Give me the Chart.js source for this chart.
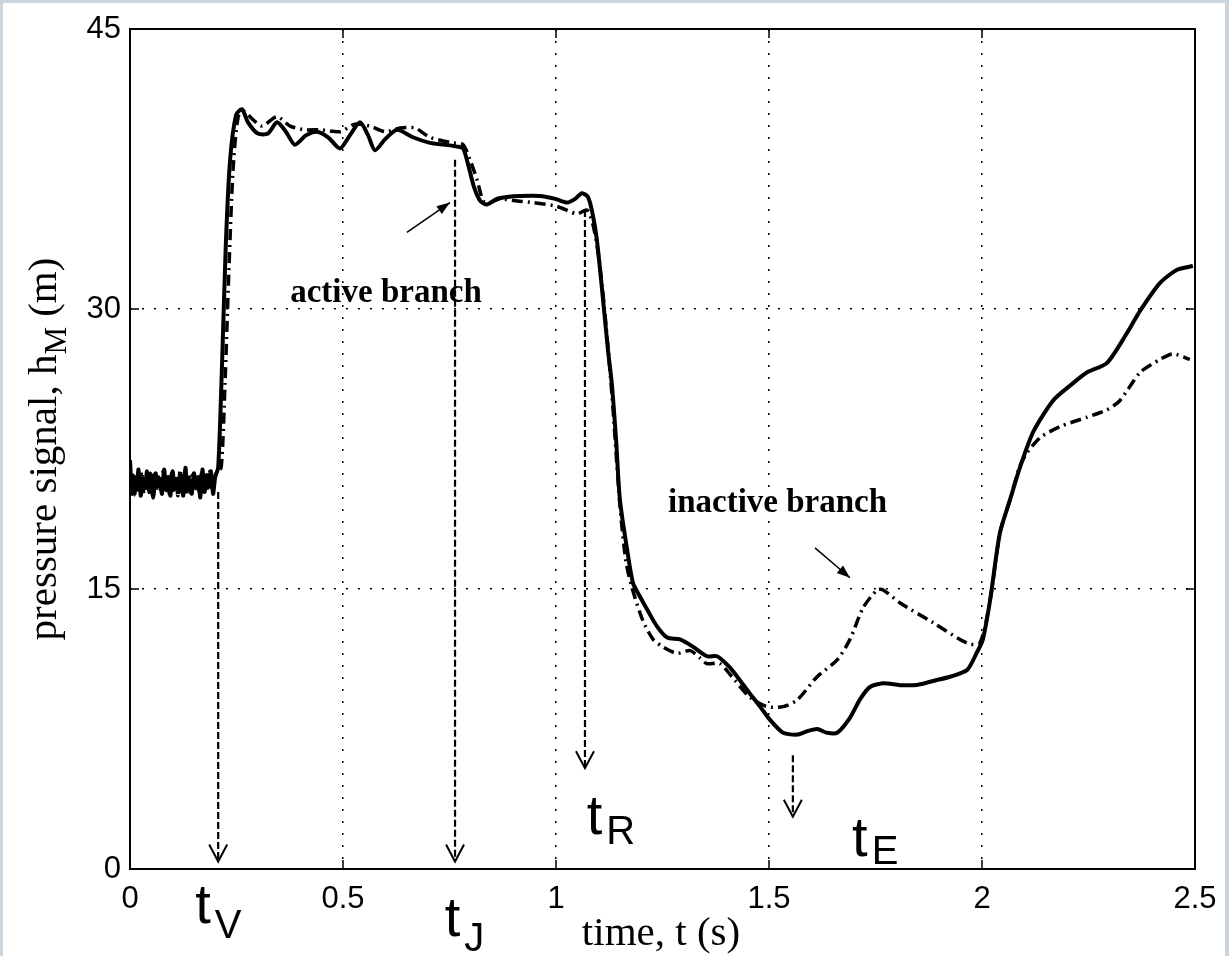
<!DOCTYPE html>
<html>
<head>
<meta charset="utf-8">
<script src="https://cdn.jsdelivr.net/npm/chart.js@4/dist/chart.umd.min.js"></script>
<style>
  html, body { margin: 0; padding: 0; background: #cbd5dd; }
  #wrap { width: 1229px; height: 956px; }
</style>
</head>
<body>
<div id="wrap"><canvas id="pressureChart" width="1229" height="956"></canvas></div>
<script>
// tick values
const xTicks = [0, 0.5, 1, 1.5, 2, 2.5];
const yTicks = [0, 15, 30, 45];

// solid line (active branch)
const solidT = [0,0.005,0.01,0.015,0.02,0.025,0.03,0.035,0.04,0.045,0.05,0.055,0.06,0.065,0.07,0.075,0.08,0.085,0.09,0.095,
  0.1,0.105,0.11,0.115,0.12,0.125,0.13,0.135,0.14,0.145,0.15,0.155,0.16,0.165,0.17,0.175,0.18,0.185,0.19,0.195,0.2,
  0.207,0.216,0.225,0.235,0.249,0.263,0.277,0.300,0.324,0.345,0.366,0.387,0.413,0.439,0.465,0.493,0.516,0.540,0.559,0.575,
  0.599,0.627,0.664,0.704,0.739,0.768,0.782,0.793,0.808,0.822,0.838,0.861,0.885,0.915,0.962,0.998,1.026,1.045,1.061,1.075,
  1.085,1.096,1.110,1.122,1.131,1.141,1.150,1.167,1.181,1.197,1.214,1.237,1.261,1.291,1.322,1.354,1.378,1.408,1.432,1.455,
  1.479,1.502,1.533,1.566,1.592,1.613,1.636,1.660,1.690,1.714,1.737,1.768,1.808,1.847,1.890,1.925,1.965,1.988,2.002,2.019,
  2.042,2.066,2.089,2.120,2.167,2.207,2.246,2.293,2.340,2.371,2.418,2.458,2.495];
const solidH = [21.9,20.1,21.0,20.3,21.4,20.0,20.9,20.4,21.3,20.2,21.1,19.9,21.2,20.5,20.8,20.1,21.4,20.3,21.0,20.0,
  21.3,20.4,20.9,20.2,21.1,20.0,21.5,20.3,20.8,20.1,21.2,20.4,21.0,19.9,21.4,20.2,21.1,20.5,21.3,20.1,21.0,
  21.5,27.0,33.5,38.0,40.4,40.7,40.0,39.4,39.4,40.0,39.5,38.8,39.3,39.5,39.2,38.6,39.3,40.0,39.3,38.5,
  39.1,39.6,39.2,38.9,38.8,38.7,38.6,37.8,36.5,35.8,35.6,35.9,36.0,36.05,36.05,35.9,35.7,35.9,36.2,36.0,
  35.2,33.7,30.6,27.8,26.0,23.0,19.8,17.1,15.3,14.6,13.9,13.0,12.4,12.3,11.9,11.4,11.4,10.8,10.1,9.4,
  8.7,8.0,7.3,7.2,7.4,7.5,7.3,7.3,8.1,9.1,9.75,9.95,9.85,9.86,10.1,10.3,10.66,11.6,12.3,14.4,
  18.0,19.8,21.5,23.4,25.1,25.9,26.6,27.1,28.7,29.9,31.4,32.1,32.3];

// dash-dot line (inactive branch)
const inactiveT = [0.0025,0.0075,0.0125,0.0175,0.0225,0.0275,0.0325,0.0375,0.0425,0.0475,0.0525,0.0575,0.0625,0.0675,0.0725,
  0.0775,0.0825,0.0875,0.0925,0.0975,0.1025,0.1075,0.1125,0.1175,0.1225,0.1275,0.1325,0.1375,0.1425,0.1475,0.1525,0.1575,
  0.1625,0.1675,0.1725,0.1775,0.1825,0.1875,0.1925,0.1975,0.2025,
  0.214,0.223,0.232,0.242,0.254,0.268,0.286,0.310,0.345,0.376,0.411,0.446,0.493,0.528,0.563,0.599,0.634,0.669,0.704,0.758,
  0.782,0.798,0.815,0.829,0.845,0.869,0.904,0.946,1.002,1.049,1.073,1.087,1.099,1.113,1.131,1.150,1.164,1.178,1.204,1.228,
  1.251,1.284,1.315,1.338,1.354,1.385,1.420,1.455,1.495,1.533,1.566,1.613,1.660,1.690,1.721,1.754,1.768,1.808,1.885,1.965,
  1.995,2.019,2.042,2.066,2.089,2.106,2.136,2.183,2.246,2.293,2.324,2.371,2.418,2.448,2.488];
const inactiveH = [20.6,21.2,20.0,21.0,20.4,21.3,20.1,20.8,20.3,21.2,20.0,21.1,20.4,21.0,20.2,21.3,20.5,20.9,20.1,21.2,
  20.3,21.0,20.0,21.4,20.4,20.8,20.2,21.1,20.0,21.3,20.5,20.9,20.1,21.2,20.3,21.0,20.4,21.3,20.2,20.9,21.2,
  21.5,26.0,32.0,37.5,40.3,40.6,40.2,39.8,40.3,39.8,39.6,39.6,39.5,39.9,39.8,39.5,39.7,39.7,39.2,38.9,
  38.8,38.0,36.9,35.8,35.7,35.9,35.8,35.7,35.5,35.1,35.3,34.5,33.0,30.2,25.5,19.5,16.5,15.1,13.3,12.3,
  11.9,11.55,11.7,11.3,11.0,11.0,10.1,9.2,8.7,8.7,9.05,10.3,11.2,12.3,14.0,14.95,14.95,14.25,13.2,12.1,
  12.1,14.4,18.0,19.8,21.6,22.3,23.1,23.7,24.2,24.6,25.1,26.6,27.3,27.6,27.3];

// event markers: [label, subscript, time, arrow top, arrow bottom, text x, text baseline, subscript drop]
const events = [
  ['t', 'V', 0.207, 20.2, 0.4, 0.153, -2.9, 15],
  ['t', 'J', 0.763, 38.0, 0.4, 0.739, -3.6, 15],
  ['t', 'R', 1.068, 35.3, 5.4, 1.072, 1.9, 10],
  ['t', 'E', 1.556, 6.1, 2.8, 1.695, 0.7, 8]
];
// branch notes: [text, text x, text baseline, arrow from x, from y, to x, to y]
const notes = [
  ['active branch', 0.376, 30.4, 0.650, 34.1, 0.751, 35.7],
  ['inactive branch', 1.263, 19.1, 1.608, 17.2, 1.690, 15.6]
];

const pairs = (ts, hs) => ts.map((t, i) => ({ x: t, y: hs[i] }));

const SERIF = '"Liberation Serif", "Times New Roman", serif';
const SANS = '"Liberation Sans", Arial, sans-serif';

const frame = {
  id: 'frame',
  beforeDraw(chart) {
    const c = chart.ctx;
    c.save();
    c.fillStyle = '#cbd5dd';
    c.fillRect(0, 0, chart.width, chart.height);
    c.fillStyle = '#ffffff';
    c.fillRect(3, 3, 1222, chart.height - 3);
    c.restore();
  },
  afterDraw(chart) {
    const c = chart.ctx;
    const a = chart.chartArea;
    const xs = chart.scales.x, ys = chart.scales.y;
    c.save();
    // axes box
    c.strokeStyle = '#000';
    c.lineWidth = 2;
    c.setLineDash([]);
    c.strokeRect(a.left, a.top, a.right - a.left, a.bottom - a.top);
    // inward ticks
    c.lineWidth = 1.5;
    xTicks.forEach(v => {
      const px = xs.getPixelForValue(v);
      c.beginPath();
      c.moveTo(px, a.bottom); c.lineTo(px, a.bottom - 9);
      c.moveTo(px, a.top); c.lineTo(px, a.top + 9);
      c.stroke();
    });
    yTicks.forEach(v => {
      const py = ys.getPixelForValue(v);
      c.beginPath();
      c.moveTo(a.left, py); c.lineTo(a.left + 9, py);
      c.moveTo(a.right, py); c.lineTo(a.right - 9, py);
      c.stroke();
    });

    // event arrows (dashed, open head)
    c.fillStyle = '#000';
    events.forEach(e => {
      const px = xs.getPixelForValue(e[2]);
      const y1 = ys.getPixelForValue(e[3]);
      const y2 = ys.getPixelForValue(e[4]);
      c.lineWidth = 2.2;
      c.setLineDash([7, 3]);
      c.beginPath(); c.moveTo(px, y1); c.lineTo(px, y2); c.stroke();
      c.setLineDash([]);
      c.lineWidth = 2;
      c.beginPath();
      c.moveTo(px - 9, y2 - 17); c.lineTo(px, y2); c.lineTo(px + 9, y2 - 17);
      c.stroke();
      // label with subscript
      const tx = xs.getPixelForValue(e[5]);
      const ty = ys.getPixelForValue(e[6]);
      c.font = '56px ' + SANS;
      c.textAlign = 'left';
      c.textBaseline = 'alphabetic';
      c.fillText(e[0], tx, ty);
      const w = c.measureText(e[0]).width;
      c.font = '40px ' + SANS;
      c.fillText(e[1], tx + w + 4, ty + e[7]);
    });

    // branch notes with small solid arrows
    notes.forEach(n => {
      c.font = 'bold 33px ' + SERIF;
      c.textAlign = 'left';
      c.fillText(n[0], xs.getPixelForValue(n[1]), ys.getPixelForValue(n[2]));
      const x1 = xs.getPixelForValue(n[3]), y1 = ys.getPixelForValue(n[4]);
      const x2 = xs.getPixelForValue(n[5]), y2 = ys.getPixelForValue(n[6]);
      const ang = Math.atan2(y2 - y1, x2 - x1);
      c.lineWidth = 1.5;
      c.beginPath(); c.moveTo(x1, y1); c.lineTo(x2, y2); c.stroke();
      c.beginPath();
      c.moveTo(x2, y2);
      c.lineTo(x2 - 14 * Math.cos(ang - 0.35), y2 - 14 * Math.sin(ang - 0.35));
      c.lineTo(x2 - 14 * Math.cos(ang + 0.35), y2 - 14 * Math.sin(ang + 0.35));
      c.closePath(); c.fill();
    });

    // axis titles
    c.font = '41px ' + SERIF;
    c.textAlign = 'center';
    c.fillText('time, t (s)', 661, 945);

    c.translate(56, (a.top + a.bottom) / 2);
    c.rotate(-Math.PI / 2);
    const p1 = 'pressure signal, h', sub = 'M', p2 = ' (m)';
    c.font = '41px ' + SERIF;
    const w1 = c.measureText(p1).width, w3 = c.measureText(p2).width;
    c.font = '31px ' + SERIF;
    const w2 = c.measureText(sub).width;
    const x0 = -(w1 + w2 + w3) / 2;
    c.textAlign = 'left';
    c.font = '41px ' + SERIF;
    c.fillText(p1, x0, 0);
    c.font = '31px ' + SERIF;
    c.fillText(sub, x0 + w1, 10);
    c.font = '41px ' + SERIF;
    c.fillText(p2, x0 + w1 + w2, 0);
    c.restore();
  }
};

const ctx = document.getElementById('pressureChart').getContext('2d');

new Chart(ctx, {
  type: 'line',
  data: {
    datasets: [
      {
        label: 'inactive branch',
        data: pairs(inactiveT, inactiveH),
        borderColor: '#000',
        borderWidth: 3.5,
        borderDash: [11, 5, 2, 5],
        pointRadius: 0,
        tension: 0.25,
        fill: false
      },
      {
        label: 'active branch',
        data: pairs(solidT, solidH),
        borderColor: '#000',
        borderWidth: 4,
        pointRadius: 0,
        tension: 0.25,
        fill: false
      }
    ]
  },
  options: {
    responsive: false,
    animation: false,
    layout: { padding: { left: 0, top: 29, right: 34, bottom: 0 } },
    plugins: {
      legend: { display: false },
      tooltip: { enabled: false }
    },
    scales: {
      x: {
        type: 'linear',
        min: 0,
        max: 2.5,
        afterBuildTicks: s => { s.ticks = xTicks.map(v => ({ value: v })); },
        afterFit: s => { s.height = 87; },
        grid: { color: '#000', lineWidth: 1.5, drawTicks: false },
        border: { display: false, dash: [2, 10] },
        ticks: {
          color: '#000',
          padding: 12,
          maxRotation: 0,
          callback: v => String(v),
          font: { family: SANS, size: 31 }
        }
      },
      y: {
        type: 'linear',
        min: 0,
        max: 45,
        afterBuildTicks: s => { s.ticks = yTicks.map(v => ({ value: v })); },
        afterFit: s => { s.width = 130; },
        grid: { color: '#000', lineWidth: 1.5, drawTicks: false },
        border: { display: false, dash: [2, 10] },
        ticks: {
          color: '#000',
          padding: 9,
          callback: v => String(v),
          font: { family: SANS, size: 31 }
        }
      }
    }
  },
  plugins: [frame]
});
</script>
</body>
</html>
